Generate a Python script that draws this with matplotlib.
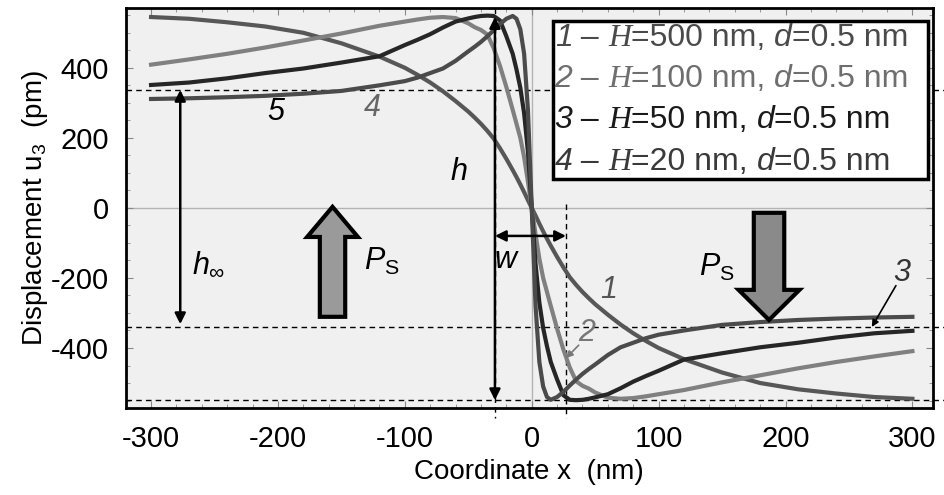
import matplotlib
matplotlib.use('Agg')
import matplotlib.pyplot as plt
from matplotlib.offsetbox import TextArea, HPacker, VPacker, AnchoredOffsetbox
from matplotlib.patches import FancyArrow
from matplotlib.ticker import MultipleLocator

plt.rcParams['font.family'] = ['Liberation Sans', 'DejaVu Sans']
plt.rcParams['mathtext.fontset'] = 'custom'
plt.rcParams['mathtext.rm'] = 'Liberation Sans'
plt.rcParams['mathtext.it'] = 'Liberation Sans:italic'
plt.rcParams['mathtext.bf'] = 'Liberation Sans:bold'
plt.rcParams['axes.unicode_minus'] = False

# coordinate x (nm)
x_nm = [-300, -270, -240, -210, -180, -150, -120, -100, -90, -80, -70, -60, -50, -45,
        -40, -35, -30, -25, -20, -15, -12, -9, -6, -3, 0, 3, 6, 9, 12, 15, 20, 25, 30,
        35, 40, 45, 50, 60, 70, 80, 90, 100, 120, 150, 180, 210, 240, 270, 300]

# displacement u3 (pm)
u_500 = [545, 540, 530, 518, 500, 470, 432, 400, 380, 358, 333, 305, 275, 258,
         240, 220, 198, 170, 140, 108, 88, 67, 45, 22, 0, -22, -45, -67, -88, -108,
         -140, -170, -198, -220, -240, -258, -275, -305, -333, -358, -380, -400,
         -432, -470, -500, -518, -530, -540, -545]
u_100 = [409, 424, 440, 458, 478, 498, 520, 532, 538, 543, 545, 542, 527, 516,
         508, 495, 456, 405, 345, 280, 240, 200, 145, 75, 0, -75, -145, -200, -240,
         -280, -345, -405, -456, -495, -508, -516, -527, -542, -545, -543, -538,
         -532, -520, -498, -478, -458, -440, -424, -409]
u_50 = [351, 358, 370, 385, 398, 415, 433, 465, 480, 496, 515, 532, 541, 545,
        548, 549, 548, 535, 490, 440, 395, 343, 270, 160, 0, -160, -270, -343, -395,
        -440, -490, -535, -548, -549, -548, -545, -541, -532, -515, -496, -480,
        -465, -433, -415, -398, -385, -370, -358, -351]
u_20 = [311, 313, 316, 320, 326, 334, 350, 362, 372, 385, 398, 420, 447, 460,
        474, 490, 507, 525, 540, 548, 540, 510, 440, 280, 0, -280, -440, -510, -540,
        -548, -540, -525, -507, -490, -474, -460, -447, -420, -398, -385, -372,
        -362, -350, -334, -326, -320, -316, -313, -311]

curves = [u_500, u_100, u_50, u_20]
curve_colors = ['#575757', '#808080', '#262626', '#4b4b4b']
legend_H = [500, 100, 50, 20]
legend_d = 0.5
legend_colors = ['#4a4a4a', '#6e6e6e', '#1a1a1a', '#3a3a3a']

h_top, h_bottom = 545, -549
h_inf_top, h_inf_bottom = 337, -340
x_h, x_w = -29, 27

fig = plt.figure(figsize=(9.45, 4.95), dpi=100)
ax = fig.add_axes([0.133, 0.176, 0.854, 0.808])
ax.set_facecolor('#f0f0f0')

ax.axhline(0, color='#b4b4b4', lw=1, zorder=0.5)
ax.axvline(0, color='#b4b4b4', lw=1, zorder=0.5)

for u, c in zip(curves, curve_colors):
    ax.plot(x_nm, u, color=c, lw=3, solid_joinstyle='round', zorder=3)

# dashed guides
dash = dict(color='k', lw=1, ls=(0, (4, 3)), clip_on=False, zorder=2)
ax.plot([-320, 325], [h_inf_top, h_inf_top], **dash)
ax.plot([-320, 325], [h_inf_bottom, h_inf_bottom], **dash)
ax.plot([-320, 325], [h_bottom, h_bottom], **dash)
ax.plot([x_h, x_h], [571, -600], **dash)
ax.plot([x_w, x_w], [10, -600], **dash)

# dimension arrows
arr = dict(arrowstyle='<|-|>', color='k', lw=1.8, mutation_scale=16, shrinkA=0, shrinkB=0)
ax.annotate('', xy=(x_h, h_bottom), xytext=(x_h, h_top), arrowprops=arr, zorder=4)
ax.annotate('', xy=(-277, h_inf_bottom + 8), xytext=(-277, h_inf_top), arrowprops=arr, zorder=4)
ax.annotate('', xy=(x_w, -80), xytext=(x_h, -80), arrowprops=arr, zorder=4)

# polarization arrows
ax.add_patch(FancyArrow(-157, -311, 0, 314, width=20, head_width=40, head_length=86,
                        length_includes_head=True, fc='#9a9a9a', ec='k', lw=3, zorder=4))
ax.add_patch(FancyArrow(187, -14, 0, -306, width=24, head_width=48, head_length=86,
                        length_includes_head=True, fc='#8a8a8a', ec='k', lw=3, zorder=4))

fs = 22
ax.text(-57, 103, 'h', style='italic', fontsize=fs, ha='center', va='center')
ax.text(-255, -163, r'$h_\infty$', fontsize=fs, ha='center', va='center')
ax.text(-21, -149, 'w', style='italic', fontsize=fs, ha='center', va='center')
ax.text(-118, -154, r'$P_{\rm S}$', fontsize=fs, ha='center', va='center')
ax.text(146, -171, r'$P_{\rm S}$', fontsize=fs, ha='center', va='center')
ax.text(61, -234, '1', style='italic', fontsize=fs, color='#555555', ha='center', va='center')
ax.text(-202, 274, '5', style='italic', fontsize=fs, color='k', ha='center', va='center')
ax.text(-126, 286, '4', style='italic', fontsize=fs, color='#666666', ha='center', va='center')
ax.text(43, -357, '2', style='italic', fontsize=fs, color='#777777', ha='center', va='center')
ax.text(292, -186, '3', style='italic', fontsize=fs, color='#333333', ha='center', va='center')
small = dict(arrowstyle='-|>', lw=1.2, mutation_scale=10, shrinkA=0, shrinkB=0)
ax.annotate('', xy=(27, -429), xytext=(37, -392), arrowprops=dict(color='#777777', **small))
ax.annotate('', xy=(268, -340), xytext=(287, -222), arrowprops=dict(color='k', **small))

# legend built from coloured text rows
lf = 23
rows = []
for num, (H, c) in enumerate(zip(legend_H, legend_colors), start=1):
    parts = [
        TextArea(str(num), textprops=dict(color=c, style='italic', size=lf)),
        TextArea(' \u2013 ', textprops=dict(color=c, size=lf)),
        TextArea('H', textprops=dict(color=c, family='Liberation Serif', style='italic', size=lf)),
        TextArea(f'={H} nm, ', textprops=dict(color=c, size=lf)),
        TextArea('d', textprops=dict(color=c, style='italic', size=lf)),
        TextArea(f'={legend_d} nm  ', textprops=dict(color=c, size=lf)),
    ]
    rows.append(HPacker(children=parts, sep=0, pad=0, align='baseline'))
vbox = VPacker(children=rows, sep=8, pad=0, align='left')
leg = AnchoredOffsetbox(loc='upper left', child=vbox, pad=0.15, borderpad=0, frameon=True,
                        bbox_to_anchor=(0.529, 0.967), bbox_transform=ax.transAxes)
leg.patch.set_boxstyle('square,pad=0')
leg.patch.set_edgecolor('k')
leg.patch.set_linewidth(2.5)
leg.set_zorder(6)
ax.add_artist(leg)

ax.set_xlim(-320, 316)
ax.set_ylim(-571, 571)
ax.xaxis.set_major_locator(MultipleLocator(100))
ax.xaxis.set_minor_locator(MultipleLocator(20))
ax.yaxis.set_major_locator(MultipleLocator(200))
ax.yaxis.set_minor_locator(MultipleLocator(50))
ax.tick_params(which='both', direction='in', top=True, right=True, colors='#888888',
               labelcolor='k', labelsize=21)
ax.tick_params(which='major', length=5, pad=12)
ax.tick_params(which='minor', length=3)
for s in ax.spines.values():
    s.set_linewidth(2)
    s.set_zorder(7)

ax.set_xlabel('Coordinate x  (nm)', fontsize=20, labelpad=5)
ax.set_ylabel('Displacement u$_3$  (pm)', fontsize=20, labelpad=1)

fig.savefig('out.png', dpi=100)
